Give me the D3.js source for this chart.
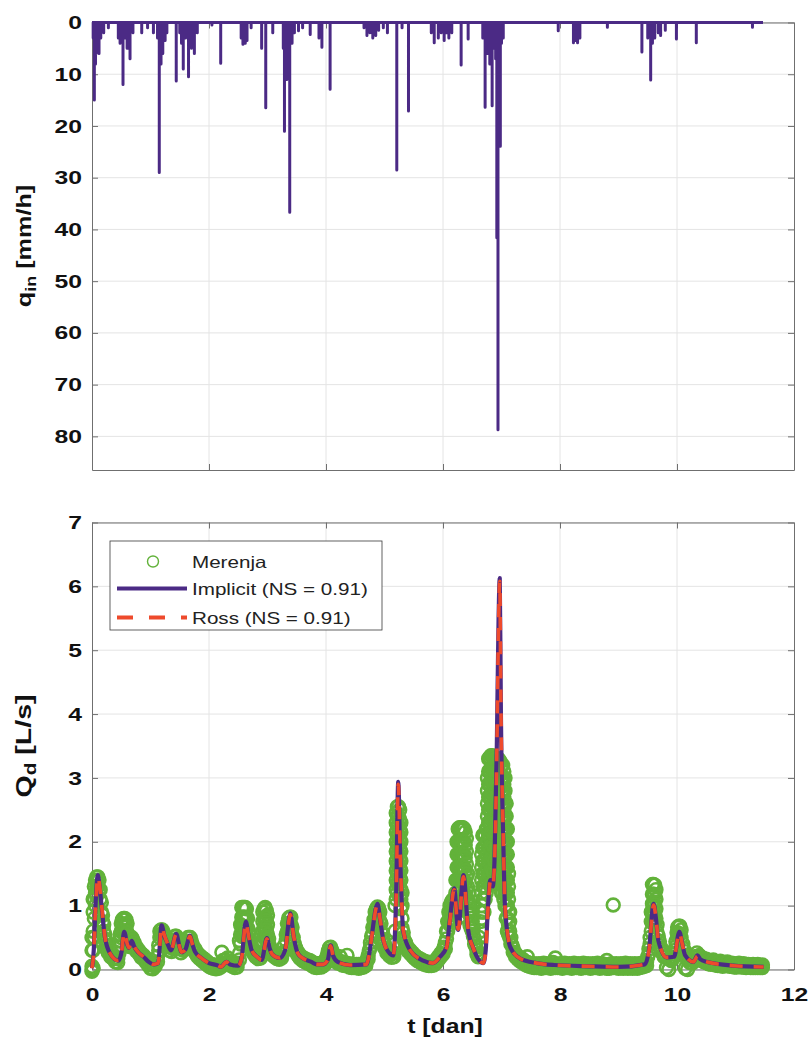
<!DOCTYPE html>
<html>
<head>
<meta charset="utf-8">
<script src="https://cdn.jsdelivr.net/npm/d3@7"></script>
<style>
  body { margin: 0; background: #fff; }
  svg { display: block; font-family: "Liberation Sans", Arial, Helvetica, sans-serif; }
</style>
</head>
<body>
<svg width="809" height="1039"></svg>
<script>
// ---------- data ----------
// rainfall intensity q_in [mm/h], time in days
var rainT = [0.00,0.02,0.04,0.06,0.07,0.09,0.11,0.12,0.15,0.20,
  0.28,0.45,0.48,0.53,0.56,0.60,0.62,0.65,0.70,0.85,
  0.95,1.05,1.12,1.15,1.18,1.21,1.25,1.28,1.44,1.50,
  1.53,1.56,1.60,1.65,1.70,1.75,1.80,2.05,2.20,2.55,
  2.58,2.62,2.65,2.72,2.90,2.97,3.09,3.27,3.29,3.33,
  3.38,3.42,3.46,3.53,3.60,3.73,3.88,3.93,4.07,4.65,
  4.70,4.75,4.80,4.85,4.90,4.98,5.05,5.21,5.30,5.41,
  5.80,5.85,5.92,5.97,6.02,6.06,6.10,6.15,6.31,6.43,
  6.68,6.72,6.76,6.80,6.84,6.87,6.90,6.92,6.94,6.96,
  6.98,7.00,7.03,7.97,8.23,8.27,8.30,8.34,8.81,9.40,
  9.50,9.55,9.58,9.62,9.68,9.72,9.80,9.99,10.33,11.29,
  11.47];
var rainQ = [0,3,15,8,6,5,4,6,3,2,
  1,3,4,12,3,5,5,7,2,2,
  1,2,3,29,8,6,3.5,2,11.3,2,
  4,9,3,10.5,5,6,2,0.5,7.9,3,
  4.2,4,3.5,1,5,16.5,2,5,21,11,
  36.7,4,2,1.6,1,2.3,3,4.8,12.9,1,
  2.5,2,3,2.5,1.5,1,2,28.5,1,17.1,
  2,3.9,3,2,3.5,2,3,2,8.2,3.2,
  3,16.4,6,8,16.1,5,7,41.6,78.7,10,
  23.9,4,3,1.6,3.9,3.5,3.9,3,0.9,5.7,
  3,11.1,4,3,2,2.5,1.5,3.2,3.9,0.9,
  0];

// modelled discharge Q_d [L/s]
var modelT = [0.00,0.03,0.06,0.10,0.13,0.165,0.22,0.31,0.45,0.50,
  0.55,0.60,0.63,0.68,0.72,0.80,0.88,0.97,1.05,1.13,
  1.19,1.24,1.28,1.35,1.44,1.49,1.53,1.60,1.675,1.72,
  1.76,1.87,2.00,2.16,2.20,2.30,2.36,2.50,2.56,2.63,
  2.68,2.73,2.82,2.90,2.99,3.04,3.08,3.21,3.30,3.39,
  3.45,3.52,3.60,3.75,3.84,3.95,4.03,4.08,4.12,4.20,
  4.41,4.69,4.74,4.78,4.88,4.93,4.98,5.09,5.15,5.20,
  5.235,5.27,5.32,5.44,5.66,5.83,5.95,6.06,6.12,6.19,
  6.26,6.35,6.43,6.52,6.69,6.73,6.77,6.81,6.85,6.88,
  6.92,6.95,6.97,6.99,7.03,7.06,7.15,7.32,7.60,7.90,
  8.50,9.00,9.45,9.52,9.60,9.64,9.68,9.82,9.95,10.04,
  10.09,10.14,10.28,10.35,10.40,10.50,10.96,11.48];
var implicitQ = [0.02,0.30,1.00,1.48,1.30,0.98,0.51,0.25,0.14,0.25,
  0.59,0.40,0.34,0.45,0.36,0.26,0.20,0.12,0.08,0.10,
  0.69,0.52,0.43,0.30,0.56,0.38,0.27,0.32,0.53,0.38,
  0.28,0.18,0.10,0.06,0.04,0.12,0.08,0.06,0.20,0.75,
  0.50,0.30,0.20,0.15,0.49,0.32,0.24,0.18,0.30,0.88,
  0.50,0.25,0.18,0.12,0.08,0.08,0.15,0.38,0.22,0.12,
  0.07,0.08,0.25,0.51,1.03,0.75,0.46,0.25,0.22,1.20,
  2.94,1.71,0.60,0.30,0.14,0.10,0.20,0.35,0.80,1.27,
  0.62,1.48,0.62,0.33,0.10,0.30,1.00,1.40,1.30,1.70,
  3.50,5.50,6.13,4.00,2.03,0.98,0.35,0.17,0.10,0.07,
  0.05,0.04,0.08,0.30,1.03,0.80,0.46,0.19,0.20,0.59,
  0.40,0.22,0.12,0.22,0.16,0.12,0.06,0.04];
var rossQ = [0.02,0.28,0.95,1.45,1.32,1.00,0.52,0.25,0.14,0.24,
  0.58,0.41,0.34,0.44,0.36,0.26,0.20,0.12,0.08,0.10,
  0.67,0.53,0.43,0.30,0.55,0.38,0.27,0.32,0.52,0.38,
  0.28,0.18,0.10,0.06,0.04,0.12,0.08,0.06,0.19,0.73,
  0.51,0.30,0.20,0.15,0.48,0.32,0.24,0.18,0.29,0.86,
  0.51,0.25,0.18,0.12,0.08,0.08,0.15,0.37,0.22,0.12,
  0.07,0.08,0.24,0.50,1.01,0.76,0.47,0.25,0.22,1.15,
  2.90,1.75,0.62,0.30,0.14,0.10,0.20,0.34,0.78,1.25,
  0.63,1.45,0.63,0.33,0.10,0.29,0.97,1.38,1.31,1.66,
  3.40,5.40,6.08,4.10,2.08,1.00,0.36,0.17,0.10,0.07,
  0.05,0.04,0.08,0.29,1.01,0.81,0.47,0.19,0.20,0.58,
  0.40,0.22,0.12,0.21,0.16,0.12,0.06,0.04];

// measured discharge ("Merenja"): each row = [t, readings at that time...]
var merenja = [
  [0.00,0.00,0.05,-0.03,0.30,0.50],[0.02,0.02,0.30,0.60,0.90,1.10],[0.04,0.50,0.80,1.10,1.30],[0.06,1.00,1.20,1.40],
  [0.08,1.45,1.30,1.15],[0.10,1.45,1.30,1.40],[0.12,1.40,1.25],[0.14,1.25,1.10],[0.16,1.05,0.90],[0.18,0.85,0.75],
  [0.20,0.70,0.60],[0.22,0.55,0.48],[0.24,0.45,0.38],[0.26,0.36,0.30],[0.28,0.32,0.26],[0.32,0.27,0.20],
  [0.36,0.23,0.17],[0.40,0.18,0.12],[0.44,0.17,0.11],[0.46,0.25],[0.48,0.35,0.55,0.45],[0.50,0.72,0.60,0.50],
  [0.52,0.78,0.68,0.58],[0.54,0.80,0.70,0.60],[0.56,0.80,0.70,0.60],[0.58,0.78,0.66,0.55],[0.60,0.72,0.58,0.45],
  [0.62,0.50,0.40],[0.64,0.45,0.36],[0.66,0.48,0.40],[0.68,0.50,0.42],[0.70,0.46,0.38],[0.72,0.42,0.34],
  [0.76,0.35,0.29],[0.80,0.30,0.25],[0.84,0.25,0.19],[0.88,0.22,0.17],[0.92,0.18,0.12],[0.96,0.13,0.07],
  [1.00,0.08,0.02],[1.04,0.07,0.01],[1.08,0.10,0.05],[1.12,0.20,0.12],[1.14,0.38,0.30],[1.16,0.60,0.50],
  [1.18,0.62,0.55],[1.20,0.62,0.52],[1.22,0.58,0.50],[1.24,0.52,0.44],[1.26,0.46,0.40],[1.28,0.42,0.36],
  [1.32,0.36,0.30],[1.36,0.34,0.28],[1.40,0.45,0.38],[1.42,0.52,0.45],[1.44,0.52,0.46],[1.46,0.48,0.42],
  [1.48,0.42,0.36],[1.52,0.32,0.26],[1.56,0.36,0.30],[1.60,0.40,0.34],[1.62,0.44],[1.64,0.50,0.44],
  [1.66,0.50,0.44],[1.68,0.50,0.42],[1.70,0.44],[1.72,0.38,0.33],[1.76,0.32,0.27],[1.80,0.26,0.21],
  [1.84,0.22,0.17],[1.88,0.19,0.14],[1.92,0.16,0.11],[1.96,0.13,0.08],[2.00,0.10,0.05],[2.04,0.08,0.03],
  [2.08,0.07,0.02],[2.12,0.06,0.01],[2.16,0.07,0.02],[2.20,0.09,0.04],[2.22,0.27],[2.24,0.14,0.08],
  [2.28,0.15,0.09],[2.32,0.18,0.12],[2.36,0.13,0.07],[2.40,0.10,0.05],[2.44,0.09,0.03],[2.48,0.10,0.04],
  [2.52,0.25,0.45,0.15],[2.54,0.70,0.55,0.40],[2.56,0.97,0.82,0.67,0.52],[2.58,0.97,0.82,0.67,0.52],
  [2.60,0.97,0.82,0.67,0.52],[2.62,0.97,0.82,0.67,0.52],[2.64,0.95,0.80,0.65,0.50],[2.66,0.80,0.65,0.50],
  [2.68,0.60,0.45],[2.70,0.45,0.38],[2.72,0.38,0.32],[2.76,0.30,0.25],[2.80,0.25,0.20],[2.84,0.22,0.17],
  [2.88,0.25,0.18],[2.90,0.55,0.40],[2.92,0.90,0.75,0.60,0.45],[2.94,0.95,0.80,0.65,0.50],
  [2.96,0.97,0.82,0.67,0.52],[2.98,0.92,0.77,0.62,0.47],[3.00,0.85,0.70,0.55,0.42],[3.02,0.48,0.38],
  [3.04,0.36,0.30],[3.08,0.29,0.23],[3.12,0.25,0.20],[3.16,0.22,0.17],[3.20,0.21,0.16],[3.24,0.24,0.18],
  [3.28,0.36,0.28],[3.32,0.55,0.45],[3.34,0.72,0.60],[3.36,0.80,0.68,0.56],[3.38,0.82,0.70,0.58],
  [3.40,0.82,0.70,0.58],[3.42,0.66,0.55],[3.44,0.50,0.42],[3.46,0.40],[3.48,0.34,0.28],[3.52,0.27,0.22],
  [3.56,0.22,0.17],[3.60,0.19,0.14],[3.64,0.17,0.12],[3.68,0.15,0.10],[3.72,0.14,0.09],[3.76,0.12,0.06],
  [3.80,0.10,0.04],[3.84,0.09,0.03],[3.88,0.09,0.04],[3.92,0.10,0.04],[3.96,0.12,0.06],[4.00,0.16,0.10],
  [4.02,0.22],[4.04,0.29,0.22],[4.06,0.34,0.28],[4.08,0.35,0.28],[4.10,0.30],[4.12,0.26,0.20],
  [4.16,0.19,0.14],[4.20,0.15,0.10],[4.24,0.20,0.12],[4.28,0.12,0.07],[4.32,0.11,0.06],[4.36,0.22,0.08],
  [4.40,0.09,0.04],[4.44,0.08,0.03],[4.48,0.08,0.03],[4.52,0.08,0.03],[4.56,0.08,0.02],[4.60,0.08,0.03],
  [4.64,0.09,0.04],[4.68,0.11,0.06],[4.70,0.15],[4.72,0.22,0.16],[4.74,0.30],[4.76,0.42,0.35],[4.78,0.52],
  [4.80,0.66,0.56],[4.82,0.78,0.66],[4.84,0.90,0.78,0.66],[4.86,0.95,0.83,0.70],[4.88,0.98,0.85,0.72],
  [4.90,0.96,0.84],[4.92,0.90,0.76],[4.94,0.72,0.60],[4.96,0.56,0.48],[4.98,0.46],[5.00,0.40,0.34],
  [5.04,0.32,0.26],[5.08,0.27,0.22],[5.12,0.24,0.19],[5.16,0.26,0.20],[5.18,0.60,1.00,0.40],
  [5.20,2.45,2.30,2.15,2.00,1.85,1.70,1.55,1.40,1.25,1.10],
  [5.22,2.55,2.40,2.25,2.10,1.95,1.80,1.65,1.50,1.35,1.20],
  [5.24,2.55,2.40,2.25,2.10,1.95,1.80,1.65,1.50,1.35],
  [5.26,2.50,2.35,2.20,2.05,1.90,1.75,1.60,1.45,1.30,1.15],
  [5.28,2.30,2.15,2.00,1.85,1.70,1.55,1.40,1.25,1.10,0.95],
  [5.30,1.20,1.00,0.80,0.65],[5.32,0.58,0.50],[5.34,0.45],[5.36,0.42,0.36],[5.40,0.34,0.29],[5.44,0.30,0.25],
  [5.48,0.26,0.21],[5.52,0.22,0.17],[5.56,0.19,0.14],[5.60,0.17,0.12],[5.64,0.15,0.10],[5.68,0.13,0.08],
  [5.72,0.12,0.07],[5.76,0.11,0.06],[5.80,0.11,0.06],[5.84,0.12,0.07],[5.88,0.15,0.10],[5.92,0.20,0.15],
  [5.96,0.25,0.20],[6.00,0.30,0.24],[6.02,0.35],[6.04,0.42,0.32],[6.06,0.60,0.48],[6.08,0.75,0.60],
  [6.10,0.90,0.75],[6.12,1.00,0.85,0.70],[6.14,1.05,0.90,0.75],[6.16,1.08,0.93,0.78],[6.18,1.10,0.95,0.80],
  [6.20,1.05,0.90,0.75],[6.22,1.40,1.20,1.00],
  [6.24,2.00,1.80,1.60,1.40,1.20,1.00],
  [6.26,2.20,2.00,1.80,1.60,1.40,1.20,1.00],
  [6.28,2.22,2.02,1.82,1.62,1.42,1.22,1.02,0.82],
  [6.30,2.22,2.02,1.82,1.62,1.42,1.22,1.02],
  [6.32,2.22,2.02,1.82,1.62,1.42,1.22],
  [6.34,2.22,2.02,1.82,1.62,1.42],
  [6.36,2.20,2.00,1.80,1.60,1.40,1.20],
  [6.38,2.15,1.95,1.75,1.55,1.35,1.15],
  [6.40,2.05,1.85,1.65,1.45,1.25,1.05],
  [6.42,1.50,1.30,1.10,0.90],[6.44,1.20,1.05,0.90],[6.46,1.00,0.85,0.70],[6.48,0.95,0.80,0.65],
  [6.50,0.90,0.75,0.60],[6.52,0.65,0.52],[6.54,0.48,0.40],[6.56,0.36],[6.58,0.30,0.24],[6.60,0.24,0.20],
  [6.62,0.50,0.35,0.25],[6.64,0.90,0.75,0.60],
  [6.66,1.80,1.60,1.40,1.20,1.00,0.80],
  [6.68,2.10,1.90,1.70,1.50,1.30,1.10,0.90],
  [6.70,2.10,1.90,1.70,1.50,1.30,1.10,0.90],
  [6.72,2.10,1.90,1.70,1.50,1.30,1.10],
  [6.74,2.20,2.00,1.80,1.60,1.40,1.20],
  [6.76,3.00,2.80,2.60,2.40,2.20,2.00,1.80,1.60,1.40],
  [6.78,3.30,3.10,2.90,2.70,2.50,2.30,2.10,1.90,1.70,1.50],
  [6.80,3.32,3.12,2.92,2.72,2.52,2.32,2.12,1.92,1.72,1.52,1.32],
  [6.82,3.35,3.15,2.95,2.75,2.55,2.35,2.15,1.95,1.75,1.55,1.35],
  [6.84,3.35,3.15,2.95,2.75,2.55,2.35,2.15,1.95,1.75,1.55,1.35],
  [6.86,3.32,3.12,2.92,2.72,2.52,2.32,2.12,1.92,1.72,1.52],
  [6.88,3.30,3.10,2.90,2.70,2.50,2.30,2.10,1.90,1.70],
  [6.90,3.30,3.10,2.90,2.70,2.50,2.30,2.10,1.90],
  [6.92,3.30,3.10,2.90,2.70,2.50,2.30,2.10],
  [6.94,3.30,3.10,2.90,2.70,2.50,2.30,2.10,1.90],
  [6.96,3.28,3.08,2.88,2.68,2.48,2.28,2.08,1.88,1.68],
  [6.98,3.25,3.05,2.85,2.65,2.45,2.25,2.05,1.85,1.65,1.45],
  [7.00,3.20,3.00,2.80,2.60,2.40,2.20,2.00,1.80,1.60,1.40,1.20],
  [7.02,3.20,3.00,2.80,2.60,2.40,2.20,2.00,1.80,1.60,1.40,1.20],
  [7.04,3.10,2.90,2.70,2.50,2.30,2.10,1.90,1.70,1.50,1.30,1.10],
  [7.06,3.00,2.80,2.60,2.40,2.20,2.00,1.80,1.60,1.40,1.20,1.00],
  [7.08,2.60,2.40,2.20,2.00,1.80,1.60,1.40,1.20,1.00,0.80],
  [7.10,2.20,2.00,1.80,1.60,1.40,1.20,1.00,0.80,0.60],
  [7.12,1.50,1.30,1.10,0.90,0.70,0.55],
  [7.14,0.90,0.75,0.60,0.50],[7.16,0.50,0.40],[7.18,0.38],[7.20,0.33,0.27],[7.24,0.25,0.20],[7.28,0.21,0.16],
  [7.32,0.18,0.13],[7.36,0.16,0.11],[7.40,0.13,0.08],[7.44,0.20,0.11,0.06],[7.48,0.10,0.05],[7.52,0.09,0.04],
  [7.56,0.09,0.03],[7.60,0.08,0.03],[7.64,0.09,0.04],[7.68,0.07,0.02],[7.72,0.10,0.04],[7.76,0.08,0.03],
  [7.80,0.09,0.04],[7.84,0.07,0.02],[7.88,0.11,0.05],[7.92,0.18,0.08,0.03],[7.96,0.08,0.03],[8.00,0.09,0.04],
  [8.04,0.07,0.02],[8.08,0.10,0.04],[8.12,0.08,0.03],[8.16,0.09,0.04],[8.20,0.07,0.02],[8.24,0.10,0.04],
  [8.28,0.08,0.03],[8.32,0.09,0.03],[8.36,0.07,0.02],[8.40,0.10,0.04],[8.44,0.08,0.03],[8.48,0.09,0.04],
  [8.52,0.07,0.02],[8.56,0.09,0.03],[8.60,0.08,0.03],[8.64,0.10,0.04],[8.68,0.07,0.02],[8.72,0.09,0.03],
  [8.76,0.08,0.03],[8.80,0.14,0.07,0.02],[8.84,0.07,0.02],[8.88,0.09,0.03],[8.91,1.01],[8.92,0.08,0.03],
  [8.96,0.09,0.03],[9.00,0.07,0.02],[9.04,0.09,0.03],[9.08,0.08,0.02],[9.12,0.10,0.04],[9.16,0.07,0.02],
  [9.20,0.09,0.03],[9.24,0.08,0.02],[9.28,0.09,0.03],[9.32,0.07,0.02],[9.36,0.09,0.03],[9.40,0.10,0.04],
  [9.44,0.11,0.05],[9.48,0.12,0.06],[9.50,0.20],[9.52,0.32,0.25],[9.54,0.50,0.40],[9.56,0.90,0.75,0.60],
  [9.58,1.33,1.18,1.03,0.88,0.73],[9.60,1.33,1.18,1.03,0.88,0.73],[9.62,1.32,1.17,1.02,0.87,0.72],
  [9.64,1.25,1.10,0.95,0.80],[9.66,0.70,0.58],[9.68,0.52,0.45],[9.70,0.44,0.38],[9.74,0.32,0.27],
  [9.78,0.25,0.20],[9.82,0.20,0.03],[9.86,0.17,0.00],[9.90,0.20,0.14],[9.94,0.24,0.18],[9.96,0.30],
  [9.98,0.44,0.36],[10.00,0.58],[10.01,0.66,0.52],[10.03,0.68,0.56],[10.05,0.68,0.55],[10.07,0.62,0.50],
  [10.10,0.40,0.34],[10.14,0.28,0.22,0.02],[10.18,0.20,0.15,0.00],[10.22,0.16,0.11],[10.26,0.15,0.10],
  [10.30,0.20,0.14],[10.34,0.26,0.20],[10.38,0.22,0.17],[10.42,0.19,0.14],[10.46,0.17,0.12],[10.50,0.16,0.11],
  [10.54,0.14,0.09],[10.58,0.13,0.08],[10.62,0.15,0.09],[10.66,0.12,0.07],[10.70,0.11,0.06],[10.74,0.13,0.07],
  [10.78,0.10,0.05],[10.82,0.11,0.06],[10.86,0.12,0.06],[10.90,0.09,0.05],[10.94,0.10,0.05],[10.98,0.09,0.04],
  [11.02,0.08,0.04],[11.06,0.10,0.05],[11.10,0.08,0.04],[11.14,0.09,0.04],[11.18,0.07,0.03],[11.22,0.08,0.04],
  [11.26,0.07,0.03],[11.30,0.08,0.03],[11.34,0.07,0.03],[11.38,0.08,0.03],[11.42,0.06,0.03],[11.46,0.07,0.03]
];

var xTicks = [0, 2, 4, 6, 8, 10, 12];
var rainTicks = [0, 10, 20, 30, 40, 50, 60, 70, 80];
var qTicks = [0, 1, 2, 3, 4, 5, 6, 7];
var legendItems = ["Merenja", "Implicit (NS = 0.91)", "Ross (NS = 0.91)"];

// ---------- colours ----------
var purple = "#4b2a85";
var red = "#ee4a2c";
var green = "#62b23a";
var axisCol = "#6f6f6f";
var gridCol = "#e4e4e4";

var svg = d3.select("svg");

var x = d3.scaleLinear().domain([0, 12]).range([92, 794]);
var yRain = d3.scaleLinear().domain([0, 86.5]).range([22.5, 470]);   // reversed: 0 at top
var yQ = d3.scaleLinear().domain([0, 7]).range([969.5, 522.5]);

// stretch text horizontally (the figure's fonts are wide)
function widen(sel, k) {
  sel.each(function () {
    var t = d3.select(this);
    var tx = +t.attr("x") || 0, ty = +t.attr("y") || 0;
    t.attr("x", null).attr("y", null)
      .attr("transform", "translate(" + tx + "," + ty + ") scale(" + k + ",1)");
  });
}

// grid + box + ticks for one panel
function panel(yScale, yTicks, showXLabels) {
  var g = svg.append("g");
  var y0 = d3.min(yScale.range()), y1 = d3.max(yScale.range());

  g.selectAll("line.gx").data(xTicks.slice(1, -1)).enter().append("line")
    .attr("x1", function (d) { return x(d); })
    .attr("x2", function (d) { return x(d); })
    .attr("y1", y0).attr("y2", y1)
    .attr("stroke", gridCol).attr("stroke-width", 1);
  g.selectAll("line.gy").data(yTicks).enter().append("line")
    .attr("x1", x(0)).attr("x2", x(12))
    .attr("y1", function (d) { return yScale(d); })
    .attr("y2", function (d) { return yScale(d); })
    .attr("stroke", gridCol).attr("stroke-width", 1);

  // left axis with labels
  var ax = g.append("g").attr("transform", "translate(" + x(0) + ",0)")
    .call(d3.axisLeft(yScale).tickValues(yTicks).tickSize(-6).tickPadding(10)
      .tickSizeOuter(0).tickFormat(d3.format("d")));
  // right axis ticks
  var axr = g.append("g").attr("transform", "translate(" + x(12) + ",0)")
    .call(d3.axisRight(yScale).tickValues(yTicks).tickSize(-6).tickFormat("").tickSizeOuter(0));
  // bottom + top ticks
  var axb = g.append("g").attr("transform", "translate(0," + y1 + ")")
    .call(d3.axisBottom(x).tickValues(xTicks).tickSize(-6).tickPadding(18).tickSizeOuter(0)
      .tickFormat(showXLabels ? d3.format("d") : ""));
  var axt = g.append("g").attr("transform", "translate(0," + y0 + ")")
    .call(d3.axisTop(x).tickValues(xTicks).tickSize(-6).tickFormat("").tickSizeOuter(0));

  [ax, axr, axb, axt].forEach(function (a) {
    a.select(".domain").attr("stroke", axisCol);
    a.selectAll(".tick line").attr("stroke", axisCol);
    a.selectAll("text").attr("fill", "#111")
      .style("font-size", "19px").style("font-weight", "bold")
      .style("font-family", "'Liberation Sans', Arial, sans-serif");
  });
  widen(ax.selectAll("text"), 1.3);
  widen(axb.selectAll("text"), 1.3);
  return g;
}

panel(yRain, rainTicks, false);
panel(yQ, qTicks, true);

// ---------- top panel: rainfall needles ----------
var rainPts = [];
rainT.forEach(function (t, i) {
  rainPts.push([t, 0], [t, rainQ[i]], [t, 0]);
});
svg.append("path")
  .datum(rainPts)
  .attr("fill", "none")
  .attr("stroke", purple)
  .attr("stroke-width", 3)
  .attr("stroke-linejoin", "round")
  .attr("d", d3.line().x(function (d) { return x(d[0]); }).y(function (d) { return yRain(d[1]); }));

// ---------- bottom panel ----------
var measPts = [];
merenja.forEach(function (row) {
  row.slice(1).forEach(function (q) { measPts.push([row[0], q]); });
});
svg.append("g").selectAll("circle").data(measPts).enter().append("circle")
  .attr("cx", function (d) { return x(d[0]); })
  .attr("cy", function (d) { return yQ(d[1]); })
  .attr("r", 6.4)
  .attr("fill", "none")
  .attr("stroke", green)
  .attr("stroke-width", 2.6);

var lineQ = function (vals) {
  return d3.line()
    .curve(d3.curveMonotoneX)
    .x(function (d, i) { return x(modelT[i]); })
    .y(function (d) { return yQ(d); })(vals);
};

svg.append("path").attr("d", lineQ(implicitQ))
  .attr("fill", "none").attr("stroke", purple).attr("stroke-width", 4.2)
  .attr("stroke-linejoin", "round");
svg.append("path").attr("d", lineQ(rossQ))
  .attr("fill", "none").attr("stroke", red).attr("stroke-width", 3.6)
  .attr("stroke-dasharray", "13,11");

// ---------- legend ----------
var leg = svg.append("g").attr("transform", "translate(110,541)");
leg.append("rect").attr("width", 272).attr("height", 89)
  .attr("fill", "#fff").attr("stroke", "#3a3a3a").attr("stroke-width", 0.8);
var rowY = [20.5, 47.5, 76.5];
leg.append("circle").attr("cx", 43).attr("cy", rowY[0]).attr("r", 5.5)
  .attr("fill", "none").attr("stroke", green).attr("stroke-width", 1.4);
leg.append("line").attr("x1", 7).attr("x2", 77).attr("y1", rowY[1]).attr("y2", rowY[1])
  .attr("stroke", purple).attr("stroke-width", 4);
leg.append("line").attr("x1", 7).attr("x2", 77).attr("y1", rowY[2]).attr("y2", rowY[2])
  .attr("stroke", red).attr("stroke-width", 4).attr("stroke-dasharray", "16,16");
var legText = leg.selectAll("text").data(legendItems).enter().append("text")
  .attr("x", 82)
  .attr("y", function (d, i) { return rowY[i] + 6; })
  .attr("fill", "#222")
  .style("font-size", "16.5px")
  .text(function (d) { return d; });
widen(legText, 1.25);

// ---------- axis titles ----------
var qIn = svg.append("text")
  .attr("transform", "translate(31,246) rotate(-90) scale(1.2,1)")
  .attr("text-anchor", "middle")
  .style("font-size", "21px").style("font-weight", "bold").attr("fill", "#111");
qIn.append("tspan").text("q");
qIn.append("tspan").attr("dy", 5).style("font-size", "15px").text("in");
qIn.append("tspan").attr("dy", -5).text(" [mm/h]");

var qD = svg.append("text")
  .attr("transform", "translate(31,746) rotate(-90) scale(1.3,1)")
  .attr("text-anchor", "middle")
  .style("font-size", "22px").style("font-weight", "bold").attr("fill", "#111");
qD.append("tspan").text("Q");
qD.append("tspan").attr("dy", 5).style("font-size", "16px").text("d");
qD.append("tspan").attr("dy", -5).text(" [L/s]");

svg.append("text")
  .attr("transform", "translate(445,1033) scale(1.18,1)")
  .attr("text-anchor", "middle")
  .style("font-size", "21px").style("font-weight", "bold").attr("fill", "#111")
  .text("t [dan]");
</script>
</body>
</html>
